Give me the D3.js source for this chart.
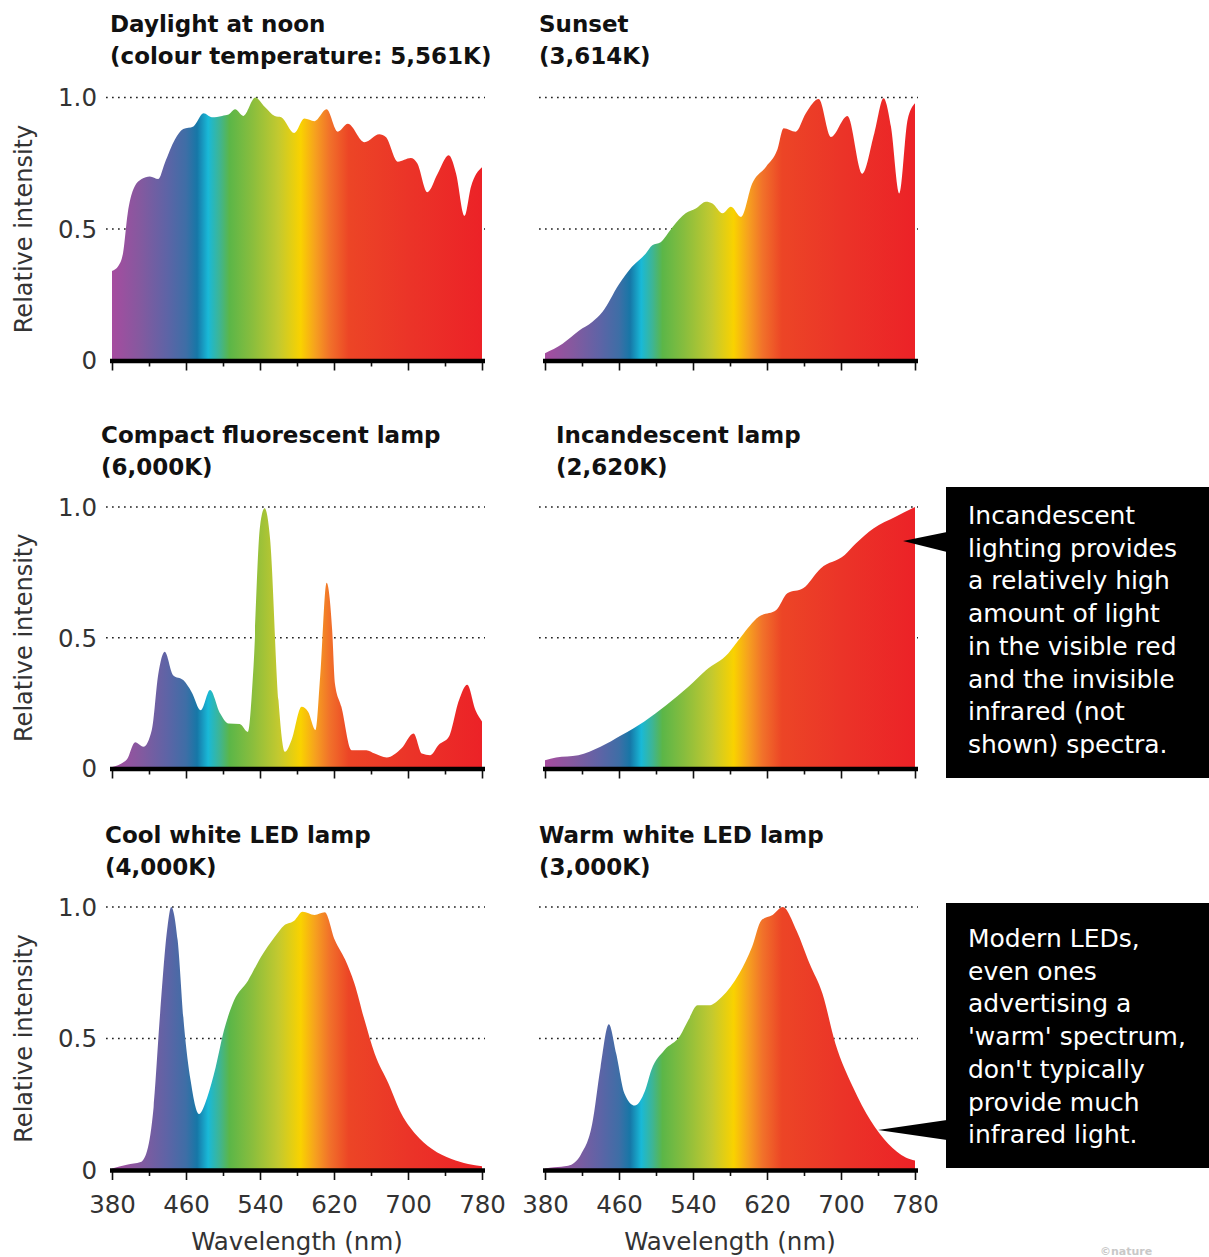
<!DOCTYPE html>
<html>
<head>
<meta charset="utf-8">
<script src="https://cdn.jsdelivr.net/npm/d3@7"></script>
<style>
  body { margin: 0; background: #fff; }
  svg { display: block; }
</style>
</head>
<body>
<div id="chart"></div>
<script>
// [wavelength nm, relative intensity]
const daylight = [[380,0.34],[387,0.36],[392,0.41],[397,0.56],[403,0.65],[412,0.69],[421,0.70],[430,0.69],[437,0.75],[448,0.84],[457,0.88],[468,0.89],[479,0.94],[488,0.925],[499,0.93],[506,0.935],[513,0.955],[522,0.93],[535,1.0],[545,0.965],[556,0.93],[563,0.925],[577,0.865],[588,0.92],[599,0.91],[612,0.955],[624,0.87],[635,0.9],[653,0.83],[669,0.86],[676,0.85],[689,0.756],[703,0.77],[710,0.75],[721,0.64],[732,0.71],[744,0.78],[752,0.71],[761,0.55],[768,0.66],[780,0.735]];
const sunset = [[380,0.028],[399,0.064],[417,0.114],[431,0.146],[442,0.184],[460,0.29],[474,0.356],[489,0.407],[496,0.438],[505,0.45],[518,0.508],[532,0.56],[543,0.578],[554,0.604],[561,0.597],[572,0.56],[581,0.585],[592,0.546],[604,0.673],[619,0.737],[631,0.80],[638,0.883],[651,0.87],[662,0.94],[676,0.994],[689,0.85],[707,0.93],[723,0.71],[736,0.864],[746,0.997],[754,0.89],[763,0.635],[772,0.915],[780,0.978]];
const fluorescent = [[380,0.006],[396,0.034],[405,0.10],[414,0.083],[423,0.147],[430,0.36],[437,0.446],[446,0.357],[457,0.338],[466,0.293],[476,0.223],[486,0.30],[497,0.21],[506,0.172],[518,0.17],[527,0.14],[533,0.39],[540,0.925],[545,0.995],[551,0.874],[560,0.26],[567,0.064],[574,0.108],[585,0.236],[592,0.217],[600,0.147],[605,0.35],[612,0.71],[618,0.53],[621,0.325],[628,0.236],[639,0.07],[655,0.07],[664,0.057],[677,0.042],[693,0.077],[706,0.134],[715,0.057],[724,0.051],[733,0.09],[744,0.12],[755,0.26],[764,0.32],[773,0.223],[780,0.18]];
const incandescent = [[380,0.032],[392,0.042],[416,0.051],[440,0.083],[463,0.128],[487,0.179],[511,0.242],[535,0.3125],[554,0.376],[578,0.44],[592,0.504],[611,0.58],[630,0.606],[642,0.67],[659,0.689],[678,0.765],[704,0.816],[716,0.86],[735,0.918],[759,0.963],[780,1.0]];
const coolLed = [[380,0.006],[396,0.02],[411,0.03],[418,0.074],[425,0.24],[432,0.595],[440,0.925],[444,1.0],[451,0.874],[458,0.544],[465,0.34],[474,0.213],[483,0.277],[492,0.39],[501,0.53],[512,0.645],[527,0.72],[541,0.81],[556,0.887],[566,0.93],[577,0.948],[586,0.982],[599,0.97],[610,0.98],[621,0.874],[632,0.80],[642,0.71],[653,0.57],[664,0.442],[679,0.328],[693,0.213],[708,0.137],[726,0.08],[747,0.042],[765,0.023],[780,0.014]];
const warmLed = [[380,0.006],[390,0.01],[405,0.016],[419,0.06],[431,0.175],[440,0.39],[449,0.554],[457,0.442],[466,0.29],[477,0.245],[488,0.30],[495,0.38],[509,0.455],[526,0.51],[535,0.57],[545,0.626],[557,0.626],[571,0.658],[590,0.747],[604,0.85],[614,0.95],[626,0.97],[637,1.0],[652,0.91],[666,0.785],[680,0.67],[694,0.48],[713,0.315],[732,0.188],[751,0.10],[770,0.048],[780,0.036]];

const titles = [
  ['Daylight at noon', '(colour temperature: 5,561K)'],
  ['Sunset', '(3,614K)'],
  ['Compact fluorescent lamp', '(6,000K)'],
  ['Incandescent lamp', '(2,620K)'],
  ['Cool white LED lamp', '(4,000K)'],
  ['Warm white LED lamp', '(3,000K)']
];
const series = [daylight, sunset, fluorescent, incandescent, coolLed, warmLed];

const majorTicks = [380, 460, 540, 620, 700, 780];
const minorTicks = [420, 500, 580, 660, 740];
const yTicks = [0, 0.5, 1.0];
const yTickLabels = ['0', '0.5', '1.0'];

// colour of the spectrum at each wavelength
const spectrumNm = [380, 410, 440, 460, 472, 484, 496, 507, 530, 560, 584, 600, 615, 636, 700, 780];
const spectrumColor = ['#a64c9f', '#85599f', '#5d64a6', '#3e6ea6', '#1677a7', '#19b9d7', '#3db596', '#5bb648', '#86bd3e', '#c3c92f', '#f9d200', '#f6a01f', '#f1722a', '#ec4526', '#eb3428', '#ec2227'];

const notes = [
  ['Incandescent', 'lighting provides', 'a relatively high', 'amount of light', 'in the visible red', 'and the invisible', 'infrared (not', 'shown) spectra.'],
  ['Modern LEDs,', 'even ones', 'advertising a', "'warm' spectrum,", "don't typically", 'provide much', 'infrared light.']
];

const width = 1209;
const height = 1257;
const sans = '"DejaVu Sans", Verdana, sans-serif';

const cols = [{ x0: 112, x1: 482 }, { x0: 545, x1: 915 }];
const rows = [
  { top: 97.5, base: 360.5, title: 32 },
  { top: 507, base: 768.5, title: 443 },
  { top: 907, base: 1170, title: 843 }
];
const titleX = [110, 539, 101, 556, 105, 539];

const svg = d3.select('#chart')
  .append('svg')
  .attr('width', width)
  .attr('height', height)
  .style('font-family', sans);

const defs = svg.append('defs');

series.forEach((data, i) => {
  const col = cols[i % 2];
  const row = rows[Math.floor(i / 2)];
  const isLeft = i % 2 === 0;
  const isBottom = i >= 4;

  const xScale = d3.scaleLinear().domain([380, 780]).range([col.x0, col.x1]);
  const yScale = d3.scaleLinear().domain([0, 1]).range([row.base, row.top]);

  const grad = defs.append('linearGradient')
    .attr('id', 'spec' + i)
    .attr('gradientUnits', 'userSpaceOnUse')
    .attr('x1', xScale(380)).attr('x2', xScale(780))
    .attr('y1', 0).attr('y2', 0);
  grad.selectAll('stop')
    .data(spectrumNm)
    .enter()
    .append('stop')
    .attr('offset', d => (d - 380) / 400)
    .attr('stop-color', (d, k) => spectrumColor[k]);

  const g = svg.append('g');

  // title
  const t = g.append('text')
    .attr('x', titleX[i])
    .attr('y', row.title)
    .style('font-weight', 700)
    .style('font-size', '23px')
    .attr('fill', '#111');
  t.append('tspan').attr('x', titleX[i]).text(titles[i][0]);
  t.append('tspan').attr('x', titleX[i]).attr('dy', 32).text(titles[i][1]);

  // dotted gridlines
  g.selectAll('.grid')
    .data([0.5, 1.0])
    .enter()
    .append('line')
    .attr('x1', col.x0 - 6)
    .attr('x2', col.x1 + 3)
    .attr('y1', d => yScale(d))
    .attr('y2', d => yScale(d))
    .attr('stroke', '#222')
    .attr('stroke-width', 1.7)
    .attr('stroke-dasharray', '1.7 4.3');

  const area = d3.area()
    .x(d => xScale(d[0]))
    .y0(yScale(0))
    .y1(d => yScale(d[1]))
    .curve(d3.curveMonotoneX);

  g.append('path')
    .datum(data)
    .attr('d', area)
    .attr('fill', 'url(#spec' + i + ')');

  // ticks
  const major = d3.axisBottom(xScale)
    .tickValues(majorTicks)
    .tickSize(10)
    .tickPadding(16)
    .tickFormat(isBottom ? d3.format('d') : () => '');
  const minor = d3.axisBottom(xScale)
    .tickValues(minorTicks)
    .tickSize(6)
    .tickFormat(() => '');

  [major, minor].forEach(ax => {
    const a = g.append('g')
      .attr('transform', `translate(0, ${yScale(0)})`)
      .call(ax);
    a.select('.domain').remove();
    a.selectAll('line').attr('stroke', '#111').attr('stroke-width', 1.6);
    a.selectAll('text')
      .style('font-family', sans)
      .style('font-size', '24.5px')
      .attr('fill', '#333');
  });

  // thick baseline
  g.append('line')
    .attr('x1', col.x0 - 2)
    .attr('x2', col.x1 + 3)
    .attr('y1', yScale(0) + 0.5)
    .attr('y2', yScale(0) + 0.5)
    .attr('stroke', '#000')
    .attr('stroke-width', 4.5);

  if (isLeft) {
    g.selectAll('.ylab')
      .data(yTicks)
      .enter()
      .append('text')
      .attr('x', 97)
      .attr('y', d => yScale(d))
      .attr('dy', '0.36em')
      .attr('text-anchor', 'end')
      .style('font-size', '24.5px')
      .attr('fill', '#333')
      .text((d, k) => yTickLabels[k]);

    g.append('text')
      .attr('transform', `translate(32, ${(row.top + row.base) / 2}) rotate(-90)`)
      .attr('text-anchor', 'middle')
      .style('font-size', '24px')
      .attr('fill', '#333')
      .text('Relative intensity');
  }

  if (isBottom) {
    g.append('text')
      .attr('x', (col.x0 + col.x1) / 2)
      .attr('y', 1250)
      .attr('text-anchor', 'middle')
      .style('font-size', '24.5px')
      .attr('fill', '#333')
      .text('Wavelength (nm)');
  }
});

// annotation boxes
const boxes = [
  { y: 487, h: 291, tip: [903, 541], b0: 532, b1: 552, first: 524 },
  { y: 903, h: 265, tip: [878, 1130], b0: 1120, b1: 1140, first: 947 }
];
boxes.forEach((b, i) => {
  svg.append('rect')
    .attr('x', 946).attr('y', b.y)
    .attr('width', 270).attr('height', b.h)
    .attr('fill', '#000');
  svg.append('path')
    .attr('d', `M947,${b.b0}L${b.tip[0]},${b.tip[1]}L947,${b.b1}Z`)
    .attr('fill', '#000');
  svg.append('g').selectAll('text')
    .data(notes[i])
    .enter()
    .append('text')
    .attr('x', 968)
    .attr('y', (d, k) => b.first + k * 32.7)
    .style('font-size', '25px')
    .attr('fill', '#fff')
    .text(d => d);
});

svg.append('text')
  .attr('x', 1100).attr('y', 1255)
  .style('font-size', '11px')
  .style('font-weight', 700)
  .attr('fill', '#c8c8c8')
  .text('©nature');
</script>
</body>
</html>
